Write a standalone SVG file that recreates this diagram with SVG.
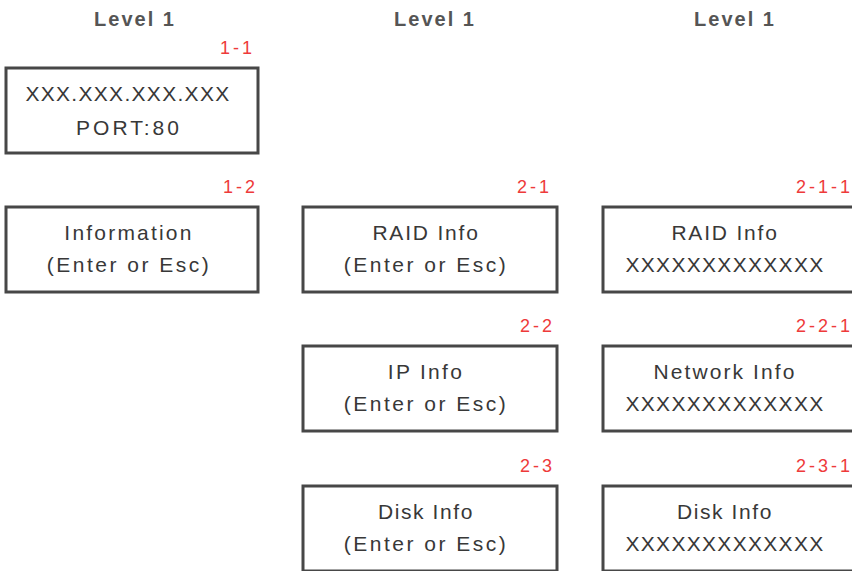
<svg xmlns="http://www.w3.org/2000/svg" width="852" height="571" viewBox="0 0 852 571">
<style>
.box{fill:#fff;stroke:#474747;stroke-width:3}
.t{font-family:"Liberation Sans",Arial,sans-serif;font-size:21px;fill:#383838;text-anchor:middle;letter-spacing:2.2px}
.x{letter-spacing:1.3px}
.lbl{font-family:"Liberation Sans",Arial,sans-serif;font-size:18px;fill:#ee3a3a;text-anchor:end;letter-spacing:3px}
.hd{font-family:"Liberation Sans",Arial,sans-serif;font-size:20px;font-weight:bold;fill:#555;text-anchor:middle;letter-spacing:2px}
</style>
<rect width="852" height="571" fill="#fff"/>
<g id="headers">
<text class="hd" x="135" y="26">Level 1</text>
<text class="hd" x="435" y="26">Level 1</text>
<text class="hd" x="735" y="26">Level 1</text>
</g>
<g id="connectors"></g>
<g id="n1-1">
<text class="lbl" x="255" y="54">1-1</text>
<rect class="box" x="6" y="68" width="252" height="85"/>
<text class="t x" x="128" y="101">XXX.XXX.XXX.XXX</text>
<text class="t" x="129" y="135" style="letter-spacing:3px">PORT:80</text>
</g>
<g id="n1-2">
<text class="lbl" x="258" y="193">1-2</text>
<rect class="box" x="6" y="207" width="252" height="85"/>
<text class="t" x="129" y="240">Information</text>
<text class="t" x="129" y="272" style="letter-spacing:2.5px">(Enter or Esc)</text>
</g>
<g id="n2-1">
<text class="lbl" x="552" y="193">2-1</text>
<rect class="box" x="303" y="207" width="254" height="85"/>
<text class="t" x="426" y="240" style="letter-spacing:1.8px">RAID Info</text>
<text class="t" x="426" y="272" style="letter-spacing:2.5px">(Enter or Esc)</text>
</g>
<g id="n2-2">
<text class="lbl" x="555" y="332">2-2</text>
<rect class="box" x="303" y="346" width="254" height="85"/>
<text class="t" x="426" y="379" style="letter-spacing:2.3px">IP Info</text>
<text class="t" x="426" y="411" style="letter-spacing:2.5px">(Enter or Esc)</text>
</g>
<g id="n2-3">
<text class="lbl" x="555" y="472">2-3</text>
<rect class="box" x="303" y="486" width="254" height="85"/>
<text class="t" x="426" y="519" style="letter-spacing:1.6px">Disk Info</text>
<text class="t" x="426" y="551" style="letter-spacing:2.5px">(Enter or Esc)</text>
</g>
<g id="n2-1-1">
<text class="lbl" x="853" y="193">2-1-1</text>
<rect class="box" x="603" y="207" width="256" height="85"/>
<text class="t" x="725" y="240" style="letter-spacing:1.8px">RAID Info</text>
<text class="t x" x="725" y="272">XXXXXXXXXXXXX</text>
</g>
<g id="n2-2-1">
<text class="lbl" x="853" y="332">2-2-1</text>
<rect class="box" x="603" y="346" width="256" height="85"/>
<text class="t" x="725" y="379" style="letter-spacing:2.1px">Network Info</text>
<text class="t x" x="725" y="411">XXXXXXXXXXXXX</text>
</g>
<g id="n2-3-1">
<text class="lbl" x="853" y="472">2-3-1</text>
<rect class="box" x="603" y="486" width="256" height="85"/>
<text class="t" x="725" y="519" style="letter-spacing:1.6px">Disk Info</text>
<text class="t x" x="725" y="551">XXXXXXXXXXXXX</text>
</g>
</svg>
